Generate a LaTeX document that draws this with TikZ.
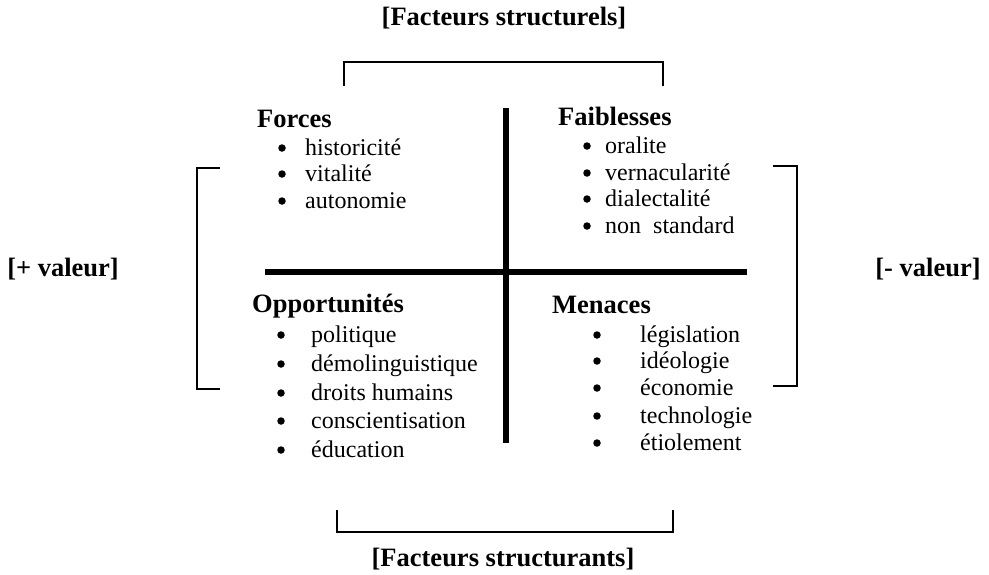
\documentclass[tikz,border=0pt]{standalone}
\usepackage{fontspec}
\setmainfont{Liberation Serif}
\begin{document}
\begin{tikzpicture}[x=1pt,y=-1pt,
  head/.style={anchor=base west,inner sep=0pt,font=\fontsize{26.5}{28}\selectfont\bfseries},
  item/.style={anchor=base west,inner sep=0pt,font=\fontsize{24}{26}\selectfont},
  lbl/.style={anchor=base,inner sep=0pt,font=\fontsize{26.5}{28}\selectfont\bfseries},
  bar/.style={line width=6pt},
  brk/.style={line width=1.5pt},
  dot/.style={circle,fill=black,draw=none,inner sep=0pt,minimum size=7.5pt}]
\useasboundingbox (0,0) rectangle (989,574);

% quadrant bars
\coordinate (vt) at (506,108);
\coordinate (vb) at (506,443);
\coordinate (hl) at (265,272);
\coordinate (hr) at (747,272);
\draw[bar] (vt) -- (vb);
\draw[bar] (hl) -- (hr);

% brackets
\coordinate (t1) at (344,86); \coordinate (t2) at (344,62);
\coordinate (t3) at (663,62); \coordinate (t4) at (663,86);
\draw[brk] (t1) -- (t2) -- (t3) -- (t4);
\coordinate (b1) at (337,510); \coordinate (b2) at (337,532);
\coordinate (b3) at (673,532); \coordinate (b4) at (673,510);
\draw[brk] (b1) -- (b2) -- (b3) -- (b4);
\coordinate (l1) at (220,168); \coordinate (l2) at (197,168);
\coordinate (l3) at (197,389); \coordinate (l4) at (220,389);
\draw[brk] (l1) -- (l2) -- (l3) -- (l4);
\coordinate (r1) at (773,166); \coordinate (r2) at (797,166);
\coordinate (r3) at (797,386); \coordinate (r4) at (773,386);
\draw[brk] (r1) -- (r2) -- (r3) -- (r4);

% outer labels
\node[lbl] (top) at (504,25) {[Facteurs structurels]};
\node[lbl] (bot) at (503,566) {[Facteurs structurants]};
\node[lbl] (plus) at (63,276) {[+ valeur]};
\node[lbl] (minus) at (928,276) {[- valeur]};

% Forces
\node[head] (hF) at (257,127) {Forces};
\foreach \t/\y [count=\i] in {historicité/155,vitalité/181,autonomie/208}{
  \node[dot] (fd\i) at (282,\y-7) {};
  \node[item] (fi\i) at (305,\y) {\t};
}

% Faiblesses
\node[head] (hW) at (558,125) {Faiblesses};
\foreach \t/\y [count=\i] in {oralite/153,vernacularité/180,dialectalité/206,non\ \ standard/233}{
  \node[dot] (wd\i) at (587,\y-7) {};
  \node[item] (wi\i) at (605,\y) {\t};
}

% Opportunites
\node[head] (hO) at (252,312) {Opportunités};
\foreach \t/\y [count=\i] in {politique/342,démolinguistique/371,droits humains/400,conscientisation/428,éducation/457}{
  \node[dot] (od\i) at (281,\y-7) {};
  \node[item] (oi\i) at (311,\y) {\t};
}

% Menaces
\node[head] (hM) at (552,313) {Menaces};
\foreach \t/\y [count=\i] in {législation/342,idéologie/368,économie/395,technologie/423,étiolement/450}{
  \node[dot] (md\i) at (597,\y-7) {};
  \node[item] (mi\i) at (640,\y) {\t};
}
\end{tikzpicture}
\end{document}
